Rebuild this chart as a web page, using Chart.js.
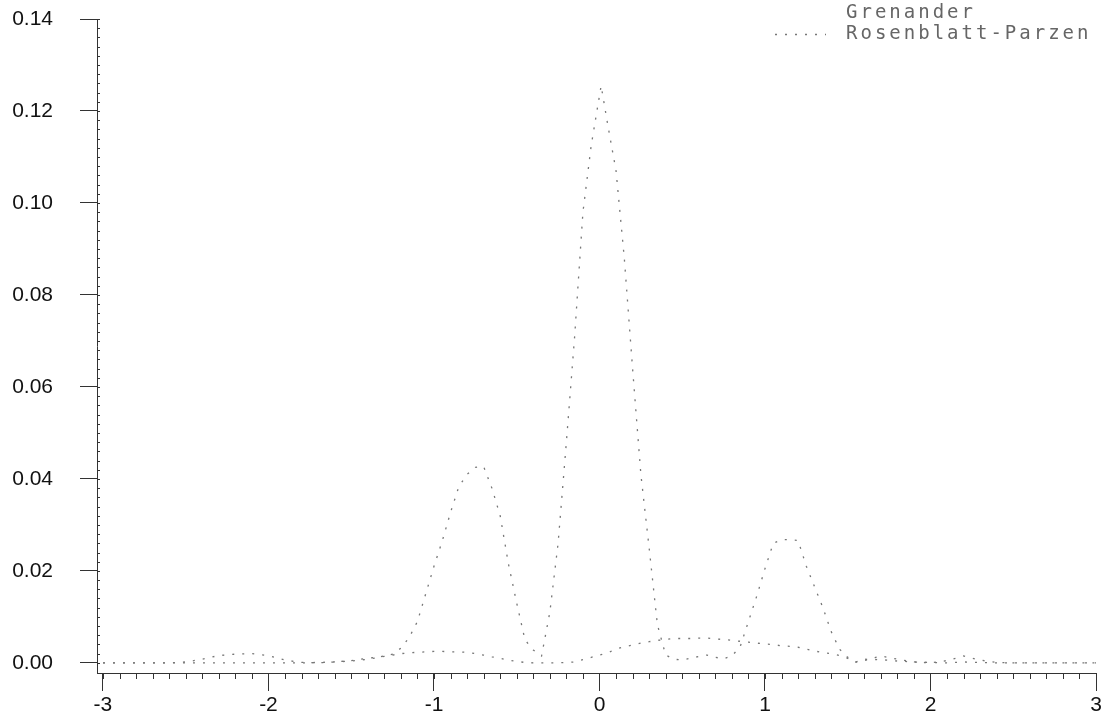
<!DOCTYPE html>
<html><head><meta charset="utf-8">
<script src="https://cdn.jsdelivr.net/npm/chart.js@4.4.1/dist/chart.umd.min.js"></script>
<style>html,body{margin:0;padding:0;background:#fff;}</style>
</head><body>
<canvas id="c" width="1104" height="724" style="display:block;width:1104px;height:724px"></canvas>
<script>
const xValues = [
  -3.0,-2.9,-2.8,-2.7,-2.6,-2.5,-2.4,-2.3,-2.2,-2.1,-2.0,-1.9,-1.8,-1.7,-1.6,-1.5,-1.4,
  -1.35,-1.3,-1.25,-1.2,-1.15,-1.1,-1.05,-1.0,-0.95,-0.9,-0.85,-0.8,-0.75,-0.7,-0.65,-0.6,-0.55,-0.5,-0.45,-0.4,-0.35,-0.3,-0.25,-0.2,-0.15,-0.1,-0.05,
  0.01,0.05,0.1,0.15,0.2,0.25,0.3,0.35,0.4,0.45,0.5,0.55,0.6,0.65,0.7,0.75,0.8,0.85,0.9,0.95,1.0,1.05,1.1,1.15,1.2,1.25,1.3,1.35,1.4,1.45,1.5,1.55,1.6,
  1.7,1.8,1.9,2.0,2.1,2.2,2.3,2.4,2.5,2.6,2.7,2.8,2.9,3.0
];
// smooth low curve
const grenander = [
  0,0,0,0,0,0,0,0,0,0,0,0,0,0.0001,0.0002,0.0004,0.0008,
  0.0011,0.0014,0.0017,0.002,0.0022,0.0023,0.0024,0.0025,0.0025,0.0024,0.0024,0.0023,0.002,0.0017,0.0013,0.001,0.0006,0.0003,0.0001,0,0,0,0,0.0001,0.0002,0.0007,0.0012,
  0.0018,0.0022,0.003,0.0035,0.0039,0.0043,0.0046,0.0049,0.0051,0.0053,0.0053,0.0053,0.0054,0.0054,0.0052,0.0051,0.0049,0.0047,0.0045,0.0043,0.0041,0.004,0.0037,0.0036,0.0034,0.003,0.0026,0.0022,0.002,0.0016,0.001,0.0002,0.0008,
  0.0007,0.0004,0.0002,0.0001,0,0.0002,0.0001,0,0,0,0,0,0,0
];
// spiky curve
const rosenblattParzen = [
  0,0,0,0,0,0.0002,0.0008,0.0016,0.0019,0.002,0.0016,0.0006,0.0001,0,0.0002,0.0005,0.001,
  0.0012,0.0015,0.0019,0.0032,0.0055,0.009,0.015,0.021,0.0265,0.0327,0.0383,0.041,0.0425,0.0427,0.038,0.032,0.0215,0.013,0.005,0.0028,0.0015,0.011,0.026,0.048,0.071,0.098,0.1125,
  0.1255,0.117,0.107,0.088,0.064,0.041,0.025,0.0083,0.0017,0.0008,0.0006,0.001,0.0014,0.0017,0.0012,0.0009,0.0015,0.0035,0.009,0.0145,0.0205,0.026,0.0268,0.0268,0.0266,0.021,0.0165,0.012,0.0068,0.003,0.0012,0.0002,0.0005,
  0.0015,0.0008,0.0002,0,0.0005,0.0015,0.0006,0.0001,0,0,0,0,0,0
];
const seriesLabels = ['Grenander', 'Rosenblatt-Parzen'];
const xTickValues = [-3, -2, -1, 0, 1, 2, 3];
const yTickValues = [0, 0.02, 0.04, 0.06, 0.08, 0.10, 0.12, 0.14];

const toPoints = arr => xValues.map((x, i) => ({ x: x, y: arr[i] }));

const minorTicks = {
  id: 'minorTicks',
  afterDraw(chart) {
    const { ctx, chartArea } = chart;
    const xs = chart.scales.x, ys = chart.scales.y;
    ctx.save();
    ctx.strokeStyle = '#333';
    ctx.lineWidth = 1;
    ctx.beginPath();
    for (let i = -30; i <= 30; i++) {
      const px = Math.round(xs.getPixelForValue(i / 10)) + 0.5;
      ctx.moveTo(px, chartArea.bottom);
      ctx.lineTo(px, chartArea.bottom + 6);
    }
    for (let i = 0; i <= 70; i++) {
      const py = Math.round(ys.getPixelForValue(i * 0.002)) + 0.5;
      ctx.moveTo(chartArea.left, py);
      ctx.lineTo(chartArea.left + 3, py);
    }
    ctx.stroke();
    ctx.restore();
  }
};

const stackedLegend = {
  id: 'stackedLegend',
  afterDraw(chart) {
    const ctx = chart.ctx;
    ctx.save();
    ctx.font = '19px "DejaVu Sans Mono"';
    try { ctx.letterSpacing = '3px'; } catch (e) {}
    ctx.fillStyle = '#666';
    ctx.textBaseline = 'middle';
    ctx.textAlign = 'left';
    chart.data.datasets.forEach((ds, i) => {
      const y = 13 + i * 21;
      ctx.fillText(ds.label, 846, y);
      if (ds.legendSample) {
        ctx.strokeStyle = ds.borderColor;
        ctx.lineWidth = ds.borderWidth;
        ctx.setLineDash(ds.borderDash);
        ctx.beginPath();
        ctx.moveTo(775, y + 0.5);
        ctx.lineTo(826, y + 0.5);
        ctx.stroke();
      }
    });
    ctx.restore();
  }
};

new Chart(document.getElementById('c'), {
  type: 'line',
  data: {
    datasets: [
      { label: seriesLabels[0], data: toPoints(grenander), borderColor: '#777', borderWidth: 1.3,
        borderDash: [2, 8], pointRadius: 0, tension: 0, fill: false, legendSample: false },
      { label: seriesLabels[1], data: toPoints(rosenblattParzen), borderColor: '#777', borderWidth: 1.3,
        borderDash: [2, 8], pointRadius: 0, tension: 0, fill: false, legendSample: true }
    ]
  },
  options: {
    responsive: false,
    animation: false,
    devicePixelRatio: 1,
    layout: { padding: { top: 19, right: 8, bottom: 0, left: 0 } },
    plugins: { legend: { display: false }, tooltip: { enabled: false } },
    scales: {
      x: {
        type: 'linear', min: -3.036, max: 3,
        afterBuildTicks: s => { s.ticks = xTickValues.map(v => ({ value: v })); },
        afterFit: s => { s.height = 51; },
        grid: { display: true, drawOnChartArea: false, drawTicks: true, tickLength: 18, color: '#333' },
        border: { display: true, color: '#333', width: 1 },
        ticks: { padding: 2, color: '#111', font: { family: 'Liberation Sans', size: 21 }, maxRotation: 0,
                 callback: v => String(v) }
      },
      y: {
        type: 'linear', min: -0.0022, max: 0.14,
        afterBuildTicks: s => { s.ticks = yTickValues.map(v => ({ value: v })); },
        afterFit: s => { s.width = 97; s.paddingTop = 0; s.paddingBottom = 0; },
        grid: { display: true, drawOnChartArea: false, drawTicks: true, tickLength: 17, color: '#333' },
        border: { display: true, color: '#333', width: 1 },
        ticks: { padding: 27, color: '#111', font: { family: 'Liberation Sans', size: 21 },
                 callback: v => Number(v).toFixed(2) }
      }
    }
  },
  plugins: [minorTicks, stackedLegend]
});
</script>
</body></html>
